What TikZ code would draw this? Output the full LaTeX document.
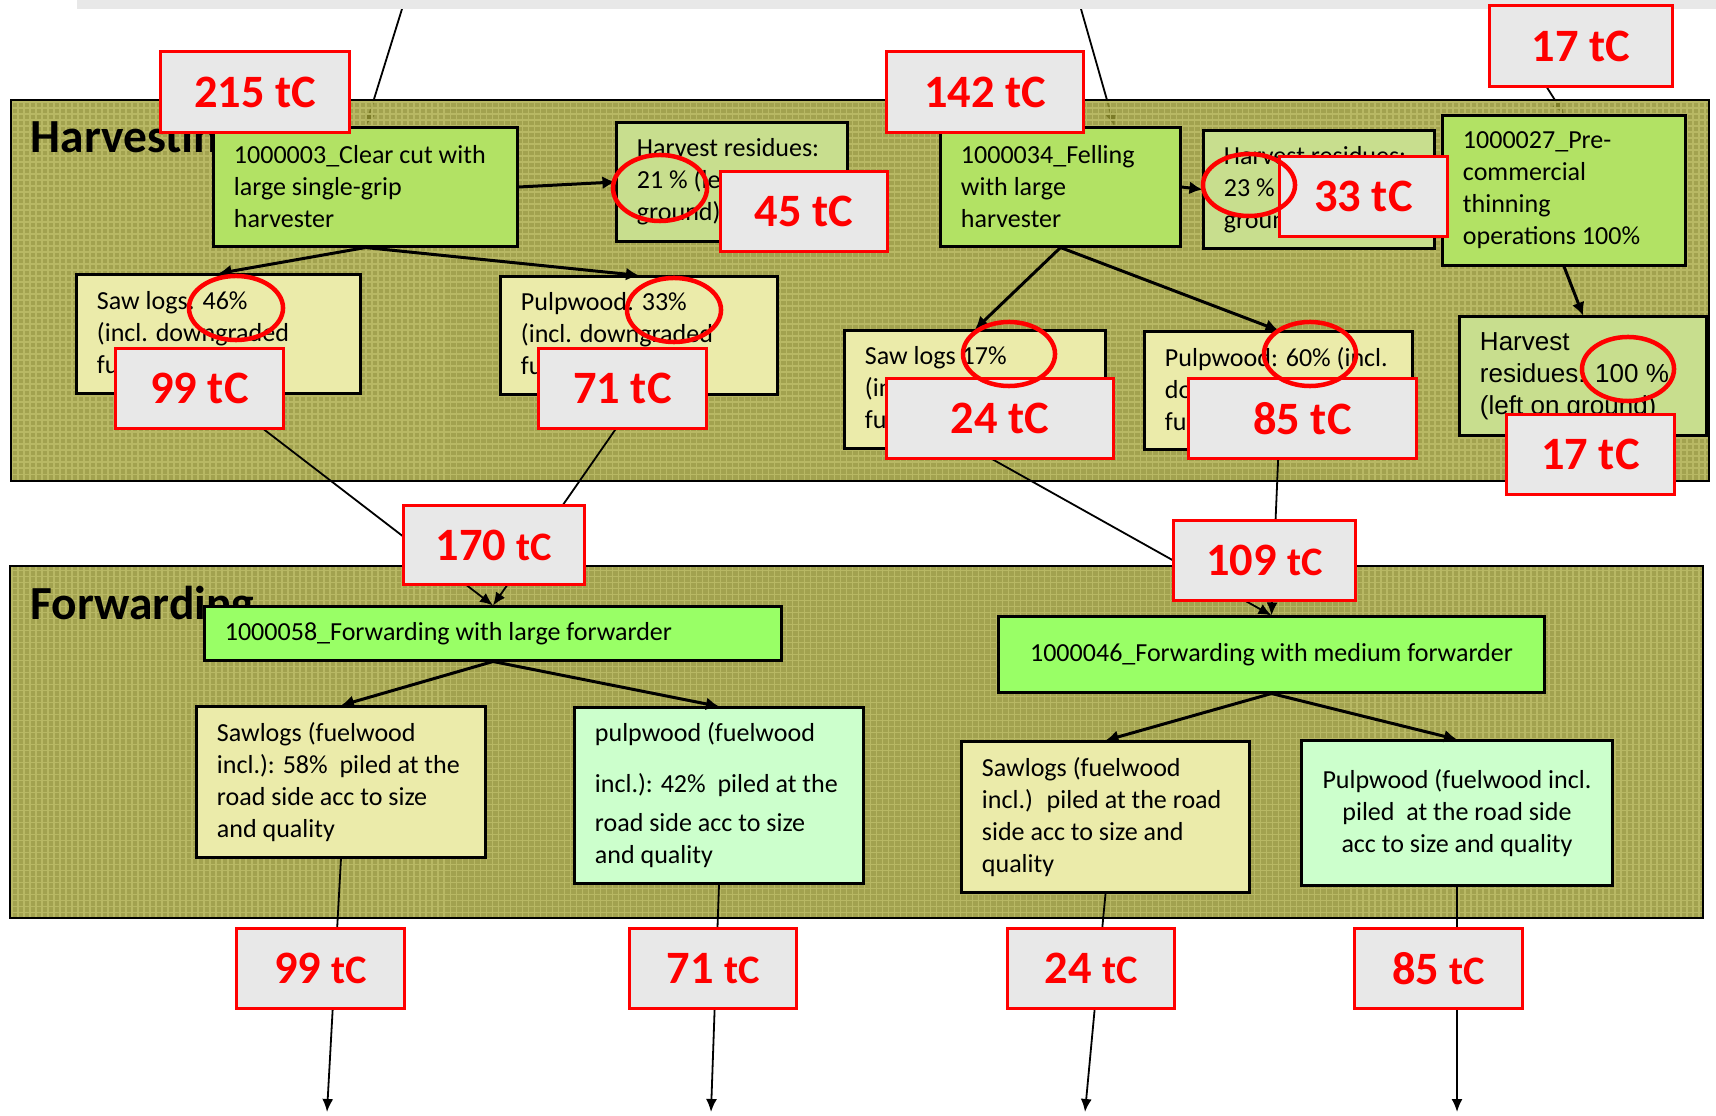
\documentclass[tikz,border=0pt]{standalone}
\usepackage{fontspec}
\setmainfont{Carlito}
\newfontfamily\arialfont{Liberation Sans}
\usepackage{tikz}
\usetikzlibrary{arrows.meta}
\pgfdeclarelayer{back}
\pgfsetlayers{back,main}

\definecolor{panelolive}{RGB}{146,146,48}
\definecolor{panelgrid}{RGB}{188,188,104}
\definecolor{harvgreen}{RGB}{178,226,100}
\definecolor{fwdgreen}{RGB}{153,255,102}
\definecolor{logyellow}{RGB}{235,235,170}
\definecolor{pulpgreen}{RGB}{204,255,204}
\definecolor{residgreen}{RGB}{200,222,142}
\definecolor{tcgray}{RGB}{232,232,232}
\definecolor{bandgray}{RGB}{232,232,232}

\newcommand\boxfont{\fontsize{7.4}{9.1}\selectfont}
\newcommand\tcfont{\fontsize{13.2}{15}\selectfont\bfseries}
\newcommand\smalltc{\fontsize{11.5}{13}\selectfont}

\begin{document}
\begin{tikzpicture}[x=0.01cm, y=-0.01cm,
  panel/.style={draw=black, line width=0.025cm, fill=panelolive, fill opacity=0.85,
    path picture={\draw[panelgrid, line width=0.015cm, draw opacity=0.85, xstep=0.06cm, ystep=0.06cm]
      (path picture bounding box.south west) grid (path picture bounding box.north east);}},
  title/.style={font=\fontsize{13.5}{15}\selectfont\bfseries, inner sep=0pt, anchor=base west},
  box/.style={draw=black, line width=0.03cm, inner xsep=0.2cm, inner ysep=0pt,
    font=\boxfont, align=flush left},
  boxsize/.style 2 args={minimum width=#1, minimum height=#2, text width=#1-0.4cm},
  tc/.style={draw=red, fill=tcgray, line width=0.03cm, text=red, font=\tcfont,
    inner sep=0pt, minimum width=1.67cm, minimum height=0.79cm},
  flow/.style={-{Latex[length=0.13cm,width=0.13cm]}, line width=0.03cm},
  feed/.style={-{Latex[length=0.13cm,width=0.11cm]}, line width=0.018cm},
  ring/.style={draw=red, line width=0.045cm},
]
\useasboundingbox (0,0) rectangle (1716,1116);
\fill[bandgray] (77,0) rectangle (1716,9);

% panels
\draw[panel] (11,100) rectangle (1709,481);
\draw[panel] (10,566) rectangle (1703,918);
\node[title] (htitle) at (30,153) {Harvesting};
\node[title] (ftitle) at (30,619) {Forwarding};

% harvesting
\node[box, boxsize={3.03cm}{1.18cm}, fill=harvgreen] (A) at (365.5,187)
  {\mbox{1000003\_Clear cut with}\\large single-grip\\harvester};
\node[box, boxsize={2.30cm}{1.18cm}, fill=residgreen] (B) at (732,182)
  {Harvest residues:\\21 \% (left on\\ground)};
\node[box, boxsize={2.83cm}{1.18cm}, fill=logyellow] (C) at (218.5,334)
  {Saw logs: 46\%\\(incl. downgraded\\fuelwood)};
\node[box, boxsize={2.76cm}{1.17cm}, fill=logyellow] (D) at (639,335.5)
  {Pulpwood: 33\%\\(incl. downgraded\\fuelwood)};
\node[box, boxsize={2.39cm}{1.18cm}, fill=harvgreen] (K) at (1060.5,187)
  {1000034\_Felling\\with large\\harvester};
\node[box, boxsize={2.30cm}{1.17cm}, fill=residgreen] (L) at (1319,189.5)
  {Harvest residues:\\23 \% (left on\\ground)};
\node[box, boxsize={2.42cm}{1.49cm}, fill=harvgreen] (M) at (1564,190.5)
  {1000027\_Pre-\\commercial\\thinning\\operations 100\%};
\node[box, boxsize={2.46cm}{1.18cm}, fill=residgreen, font=\arialfont\boxfont] (N) at (1583,376)
  {Harvest\\residues: 100 \%\\(left on ground)};
\node[box, boxsize={2.60cm}{1.17cm}, fill=logyellow] (P) at (975,389.5)
  {Saw logs 17\%\\(incl. downgraded\\fuelwood)};
\node[box, boxsize={2.67cm}{1.17cm}, fill=logyellow] (Q) at (1278.5,390.5)
  {\mbox{Pulpwood: 60\% (incl.}\\downgraded\\fuelwood)};

% forwarding
\node[box, boxsize={5.76cm}{0.53cm}, fill=fwdgreen] (F1) at (493,633.5)
  {1000058\_Forwarding with large forwarder};
\node[box, boxsize={5.45cm}{0.75cm}, fill=fwdgreen, align=flush center] (F2) at (1271.5,654.5)
  {1000046\_Forwarding with medium forwarder};
\node[box, boxsize={2.88cm}{1.50cm}, fill=logyellow] (G) at (341,782)
  {Sawlogs (fuelwood\\\mbox{incl.): 58\%~ piled at the}\\road side acc to size\\and quality};
\node[box, boxsize={2.88cm}{1.75cm}, fill=pulpgreen] (H) at (719,795.5)
  {pulpwood (fuelwood\\[0.19cm]\mbox{incl.): 42\%~ piled at the}\\[0.07cm]road side acc to size\\and quality};
\node[box, boxsize={2.87cm}{1.50cm}, fill=logyellow] (I) at (1105.5,817)
  {Sawlogs (fuelwood\\\mbox{incl.)~ piled at the road}\\side acc to size and\\quality};
\node[box, boxsize={3.10cm}{1.44cm}, fill=pulpgreen, align=flush center, inner xsep=0.1cm, text width=2.9cm] (J) at (1457,813)
  {Pulpwood (fuelwood incl.\\piled~ at the road side\\acc to size and quality};

\coordinate (inA) at (402,9);
\coordinate (inK) at (1081,9);
\coordinate (outG) at (327,1112);
\coordinate (outH) at (711,1112);
\coordinate (outI) at (1085,1112);
\coordinate (outJ) at (1457,1112);

\draw[flow] (A.east) -- (B.west);
\draw[flow] (K.east) -- (L.west);
\draw[flow] (A.south) -- (C.north);
\draw[flow] (A.south) -- (D.north);
\draw[flow] (K.south) -- (P.north);
\draw[flow] (K.south) -- (Q.north);
\draw[flow] (M.south) -- (N.north);
\draw[feed] (C.south) -- (F1.north);
\draw[feed] (D.south) -- (F1.north);
\draw[feed] (P.south) -- (F2.north);
\draw[feed] (Q.south) -- (F2.north);
\draw[flow] (F1.south) -- (G.north);
\draw[flow] (F1.south) -- (H.north);
\draw[flow] (F2.south) -- (I.north);
\draw[flow] (F2.south) -- (J.north);
\draw[feed] (G.south) -- (outG);
\draw[feed] (H.south) -- (outH);
\draw[feed] (I.south) -- (outI);
\draw[feed] (J.south) -- (outJ);

% carbon labels
\node[tc, minimum width=1.88cm, minimum height=0.80cm] (l215) at (255,92) {215 tC};
\node[tc] (l45) at (804,211.5) {45 tC};
\node[tc] (l99a) at (199.5,388.5) {99 tC};
\node[tc] (l71a) at (622.5,388.5) {71 tC};
\node[tc, minimum width=1.96cm, minimum height=0.80cm] (l142) at (985,92) {142 tC};
\node[tc] (l33) at (1363.5,196.5) {33 tC};
\node[tc, minimum width=1.82cm, minimum height=0.80cm] (l17a) at (1581,46) {17 tC};
\node[tc, minimum width=2.26cm] (l24a) at (1000,418.5) {24 tC};
\node[tc, minimum width=2.27cm] (l85a) at (1302.5,418.5) {85 tC};
\node[tc] (l17b) at (1590.5,454.5) {17 tC};
\node[tc, minimum width=1.80cm, minimum height=0.78cm] (l170) at (494,545) {170 {\smalltc tC}};
\node[tc, minimum width=1.81cm] (l109) at (1264.5,560.5) {109 {\smalltc tC}};
\node[tc] (l99b) at (320.5,968.5) {99 {\smalltc tC}};
\node[tc] (l71b) at (713,968.5) {71 {\smalltc tC}};
\node[tc] (l24b) at (1091,968.5) {24 {\smalltc tC}};
\node[tc] (l85b) at (1438.5,968.5) {85 {\smalltc tC}};

% red rings
\draw[ring] (660,188) ellipse [x radius=0.47cm, y radius=0.33cm];
\draw[ring] (236,308) ellipse [x radius=0.47cm, y radius=0.32cm];
\draw[ring] (674,310) ellipse [x radius=0.47cm, y radius=0.32cm];
\draw[ring] (1249,185) ellipse [x radius=0.46cm, y radius=0.31cm];
\draw[ring] (1009,354) ellipse [x radius=0.46cm, y radius=0.32cm];
\draw[ring] (1310,354) ellipse [x radius=0.46cm, y radius=0.32cm];
\draw[ring] (1628,369) ellipse [x radius=0.46cm, y radius=0.32cm];

\begin{pgfonlayer}{back}
\draw[feed] (inA) -- (A.north);
\draw[feed] (inK) -- ([xshift=0.54cm]K.north);
\draw[feed] ([xshift=-0.34cm]l17a.south) -- (M.north);
\end{pgfonlayer}
\end{tikzpicture}
\end{document}
